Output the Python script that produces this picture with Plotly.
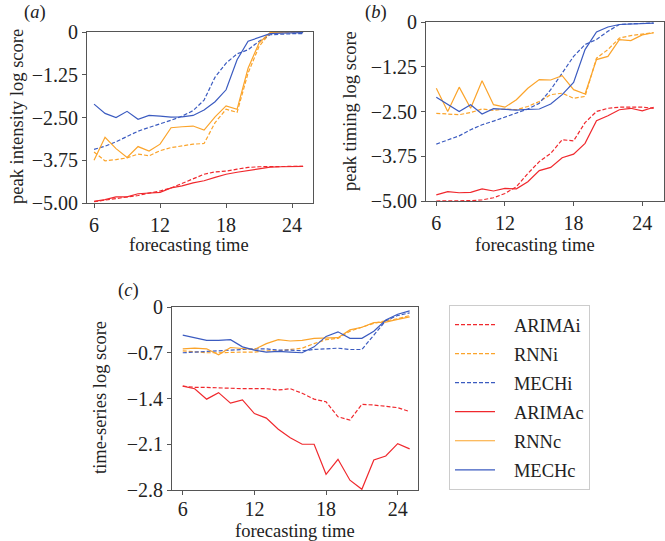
import plotly.graph_objects as go

# forecasting times
weeks = list(range(6, 26))

# (a) peak intensity log score
intensity_arimai = [-4.96, -4.92, -4.87, -4.82, -4.78, -4.71, -4.65, -4.56, -4.43, -4.29,
                    -4.16, -4.09, -4.07, -4.01, -3.96, -3.94, -3.93, -3.93, -3.93, -3.93]
intensity_rnni = [-3.51, -3.77, -3.73, -3.68, -3.57, -3.62, -3.47, -3.38, -3.33, -3.28,
                  -3.26, -2.65, -2.26, -2.35, -1.20, -0.42, -0.03, -0.01, -0.01, -0.01]
intensity_mechi = [-3.43, -3.34, -3.21, -3.06, -2.90, -2.79, -2.69, -2.58, -2.46, -2.30,
                   -1.99, -1.32, -0.91, -0.64, -0.52, -0.27, -0.08, -0.06, -0.05, -0.05]
intensity_arimac = [-4.95, -4.90, -4.82, -4.82, -4.73, -4.70, -4.69, -4.56, -4.50, -4.41,
                    -4.35, -4.25, -4.16, -4.10, -4.05, -3.99, -3.95, -3.94, -3.93, -3.93]
intensity_rnnc = [-3.75, -3.08, -3.41, -3.67, -3.35, -3.48, -3.28, -2.80, -2.77, -2.75,
                  -2.87, -2.48, -2.16, -2.26, -1.06, -0.32, -0.02, 0.0, 0.0, 0.0]
intensity_mechc = [-2.11, -2.38, -2.50, -2.32, -2.55, -2.44, -2.46, -2.49, -2.48, -2.44,
                   -2.28, -2.04, -1.69, -0.81, -0.27, -0.15, -0.05, -0.03, -0.02, -0.02]

# (b) peak timing log score
timing_arimai = [-5.00, -5.00, -4.99, -4.99, -4.97, -4.91, -4.79, -4.60, -4.23, -3.90,
                 -3.67, -3.29, -3.32, -2.81, -2.50, -2.41, -2.38, -2.38, -2.38, -2.41]
timing_rnni = [-2.55, -2.57, -2.59, -2.53, -2.43, -2.47, -2.43, -2.45, -2.36, -2.22,
               -2.03, -1.99, -2.13, -2.08, -1.01, -0.77, -0.45, -0.38, -0.33, -0.30]
timing_mechi = [-3.41, -3.29, -3.18, -3.01, -2.87, -2.77, -2.66, -2.56, -2.43, -2.27,
                -1.89, -1.43, -0.96, -0.63, -0.49, -0.26, -0.07, -0.05, -0.04, -0.03]
timing_arimac = [-4.83, -4.74, -4.77, -4.76, -4.66, -4.72, -4.65, -4.66, -4.46, -4.15,
                 -4.06, -3.79, -3.69, -3.39, -2.76, -2.62, -2.45, -2.41, -2.48, -2.38]
timing_rnnc = [-1.85, -2.50, -1.82, -2.41, -1.64, -2.31, -2.38, -2.17, -1.85, -1.61,
               -1.62, -1.50, -1.89, -2.01, -1.05, -0.96, -0.49, -0.52, -0.36, -0.30]
timing_mechc = [-2.10, -2.29, -2.50, -2.31, -2.57, -2.42, -2.43, -2.46, -2.44, -2.43,
                -2.29, -2.03, -1.69, -0.77, -0.28, -0.14, -0.07, -0.05, -0.04, -0.03]

# (c) time-series log score
series_arimai = [-1.21, -1.23, -1.23, -1.24, -1.25, -1.25, -1.25, -1.25, -1.27, -1.25,
                 -1.32, -1.41, -1.45, -1.68, -1.73, -1.49, -1.50, -1.52, -1.54, -1.60]
series_rnni = [-0.67, -0.69, -0.70, -0.70, -0.69, -0.69, -0.69, -0.67, -0.67, -0.65,
               -0.63, -0.56, -0.50, -0.48, -0.37, -0.31, -0.25, -0.21, -0.18, -0.13]
series_mechi = [-0.70, -0.69, -0.67, -0.66, -0.65, -0.64, -0.64, -0.64, -0.66, -0.66,
                -0.67, -0.65, -0.64, -0.63, -0.65, -0.65, -0.43, -0.21, -0.13, -0.09]
series_arimac = [-1.21, -1.25, -1.41, -1.31, -1.47, -1.42, -1.63, -1.70, -1.87, -2.00,
                 -2.10, -2.10, -2.56, -2.33, -2.65, -2.79, -2.34, -2.28, -2.09, -2.17]
series_rnnc = [-0.64, -0.63, -0.64, -0.73, -0.62, -0.63, -0.65, -0.56, -0.50, -0.52,
               -0.51, -0.48, -0.47, -0.47, -0.35, -0.31, -0.24, -0.23, -0.19, -0.15]
series_mechc = [-0.43, -0.47, -0.51, -0.51, -0.50, -0.61, -0.66, -0.69, -0.68, -0.69,
                -0.70, -0.61, -0.45, -0.38, -0.48, -0.48, -0.37, -0.20, -0.11, -0.06]

RED, ORANGE, BLUE = "#f0282d", "#fba42b", "#3b5bc0"
FONT = "Liberation Serif"
DASH = "4px,2px"
W, H = 665, 541


def px(x):
    return x / W


def py(y):
    return 1 - y / H


panels = [
    ("x", "y", [intensity_arimai, intensity_rnni, intensity_mechi,
                intensity_arimac, intensity_rnnc, intensity_mechc]),
    ("x2", "y2", [timing_arimai, timing_rnni, timing_mechi,
                  timing_arimac, timing_rnnc, timing_mechc]),
    ("x3", "y3", [series_arimai, series_rnni, series_mechi,
                  series_arimac, series_rnnc, series_mechc]),
]
names = ["ARIMAi", "RNNi", "MECHi", "ARIMAc", "RNNc", "MECHc"]
colors = [RED, ORANGE, BLUE, RED, ORANGE, BLUE]
dashes = [DASH, DASH, DASH, "solid", "solid", "solid"]

fig = go.Figure()
for xa, ya, series in panels:
    for i, vals in enumerate(series):
        fig.add_trace(go.Scatter(
            x=weeks, y=vals, mode="lines",
            name="\u00a0\u00a0\u00a0" + names[i],   # a little more room after the swatch
            line=dict(color=colors[i], width=1.2, dash=dashes[i]),
            xaxis=xa, yaxis=ya,
            legendgroup=names[i],
            showlegend=(xa == "x3"),
        ))

axis_style = dict(
    showline=True, linecolor="#555", linewidth=1, mirror=True,
    showgrid=False, zeroline=False, ticks="outside", ticklen=4,
    tickcolor="#555", tickfont=dict(family=FONT, size=20, color="#222"),
    automargin=False,
)
x_ticks = dict(tickvals=[6, 12, 18, 24], ticktext=["6", "12", "18", "24"])
score_ticks = dict(tickvals=[0, -1.25, -2.5, -3.75, -5],
                   ticktext=["0", "\u22121.25", "\u22122.50", "\u22123.75", "\u22125.00"])
series_ticks = dict(tickvals=[0, -0.7, -1.4, -2.1, -2.8],
                    ticktext=["0", "\u22120.7", "\u22121.4", "\u22122.1", "\u22122.8"])

fig.update_layout(
    width=W, height=H,
    margin=dict(l=0, r=0, t=0, b=0),
    paper_bgcolor="white", plot_bgcolor="white",
    font=dict(family=FONT, color="#222"),
    xaxis=dict(domain=[px(87), px(313)], range=[5.36, 25.9], anchor="y", **x_ticks, **axis_style),
    yaxis=dict(domain=[py(203), py(32)], range=[-5, 0], anchor="x", **score_ticks, **axis_style),
    xaxis2=dict(domain=[px(426), px(664)], range=[5.1, 25.9], anchor="y2", **x_ticks, **axis_style),
    yaxis2=dict(domain=[py(201), py(22)], range=[-5, 0], anchor="x2", **score_ticks, **axis_style),
    xaxis3=dict(domain=[px(172), px(418)], range=[5.1, 25.7], anchor="y3",
                ticklabelstandoff=-3, **x_ticks, **axis_style),
    yaxis3=dict(domain=[py(490), py(307)], range=[-2.8, 0], anchor="x3", **series_ticks, **axis_style),
    legend=dict(
        x=px(449), y=py(305), xanchor="left", yanchor="top",
        bgcolor="white", bordercolor="#cccccc", borderwidth=1,
        font=dict(family=FONT, size=18.5, color="#222"),
        traceorder="grouped", tracegroupgap=2,
        itemwidth=40,
    ),
)


def label(text, x, y, angle=0, size=18.5):
    fig.add_annotation(text=text, x=px(x), y=py(y), xref="paper", yref="paper",
                       xanchor="center", yanchor="middle",
                       showarrow=False, textangle=angle,
                       font=dict(family=FONT, size=size, color="#222"))


# axis titles
label("peak intensity log score", 17, 117, angle=-90)
label("peak timing log score", 350, 111, angle=-90)
label("time-series log score", 100, 398, angle=-90)
label("forecasting time", 189, 245)
label("forecasting time", 535, 245)
label("forecasting time", 295, 531)

# panel labels
label("(<i>a</i>)", 35, 13)
label("(<i>b</i>)", 376, 13)
label("(<i>c</i>)", 128, 290)

# drop the default 8px body margin so the figure fills the window exactly
fig.write_html("out.html", config={"displayModeBar": False},
               post_script="document.body.style.margin = '0';")
